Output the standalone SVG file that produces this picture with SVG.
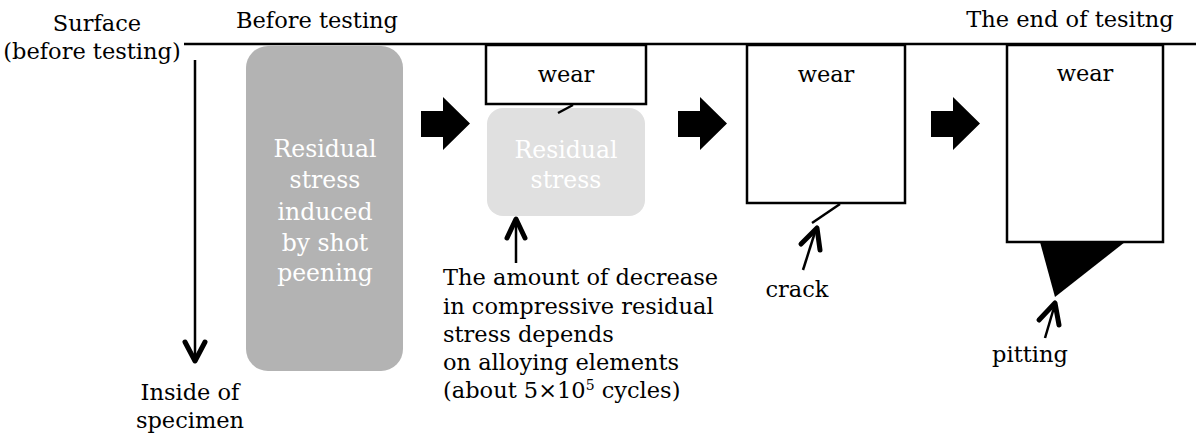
<svg xmlns="http://www.w3.org/2000/svg" width="1196" height="437" viewBox="0 0 1196 437">
<style>
text{font-family:"DejaVu Serif","Liberation Serif",serif;font-size:22.5px;fill:#000}
.c{text-anchor:middle}
.w{fill:#fff;font-size:23.5px}
.box{fill:#fff;stroke:#000;stroke-width:2.5}
.ln{fill:none;stroke:#000;stroke-width:2.5}
.hd{fill:none;stroke:#000;stroke-width:5;stroke-linecap:round;stroke-linejoin:round}
.blk{fill:#000}
</style>
<rect width="1196" height="437" fill="#fff"/>
<g id="labels">
<text class="c" x="97" y="31">Surface</text>
<text class="c" x="92" y="59">(before testing)</text>
<text class="c" x="317" y="28">Before testing</text>
<text class="c" x="1070" y="27">The end of tesitng</text>
<text class="c" x="190" y="400">Inside of</text>
<text class="c" x="190" y="428">specimen</text>
</g>
<g id="surface">
<line class="ln" x1="184" y1="44" x2="1196" y2="44" stroke-width="3"/>
</g>
<g id="shot-peening">
<rect x="246" y="46" width="157" height="325" rx="22" fill="#b3b3b3"/>
<text class="c w" x="325" y="157">Residual</text>
<text class="c w" x="325" y="188">stress</text>
<text class="c w" x="325" y="220">induced</text>
<text class="c w" x="325" y="251">by shot</text>
<text class="c w" x="325" y="281">peening</text>
</g>
<g id="stage1">
<rect x="487" y="108" width="158" height="108" rx="16" fill="#e0e0e0"/>
<text class="c w" x="566" y="158">Residual</text>
<text class="c w" x="566" y="188">stress</text>
<rect class="box" x="486" y="45" width="160" height="59"/>
<text class="c" x="566" y="82">wear</text>
<line class="ln" x1="558" y1="113" x2="573" y2="105"/>
<text x="443" y="285">The amount of decrease</text>
<text x="443" y="314">in compressive residual</text>
<text x="443" y="342">stress depends</text>
<text x="443" y="370">on alloying elements</text>
<text x="443" y="398">(about 5×10<tspan dy="-8" font-size="14">5</tspan><tspan dy="8"> cycles)</tspan></text>
</g>
<g id="stage2">
<rect class="box" x="747" y="45" width="158" height="158"/>
<text class="c" x="826" y="82">wear</text>
<line class="ln" x1="812" y1="223" x2="840" y2="204"/>
<text class="c" x="797" y="297">crack</text>
</g>
<g id="stage3">
<rect class="box" x="1007" y="45" width="156" height="197"/>
<text class="c" x="1085" y="81">wear</text>
<polygon class="blk" points="1040,242 1125,242 1055,297"/>
<text class="c" x="1030" y="362">pitting</text>
</g>
<g id="connectors">
<line class="ln" x1="195" y1="60" x2="195" y2="360"/>
<polyline class="hd" points="185,342 195,361 205,342"/>
<polygon class="blk" points="421,111 443,111 443,97 470,123.5 443,150 443,137 421,137"/>
<polygon class="blk" points="678,111 700,111 700,97 727,123.5 700,150 700,137 678,137"/>
<polygon class="blk" points="931,111 953,111 953,97 980,123.5 953,150 953,137 931,137"/>
<line class="ln" x1="516" y1="263" x2="516" y2="220"/>
<polyline class="hd" points="507,238 516,219 525,238"/>
<line class="ln" x1="803" y1="270" x2="816" y2="229"/>
<polyline class="hd" points="801,244 817,228 820,250"/>
<line class="ln" x1="1045" y1="338" x2="1055" y2="304"/>
<polyline class="hd" points="1039,320 1055,303 1059,325"/>
</g>
</svg>
